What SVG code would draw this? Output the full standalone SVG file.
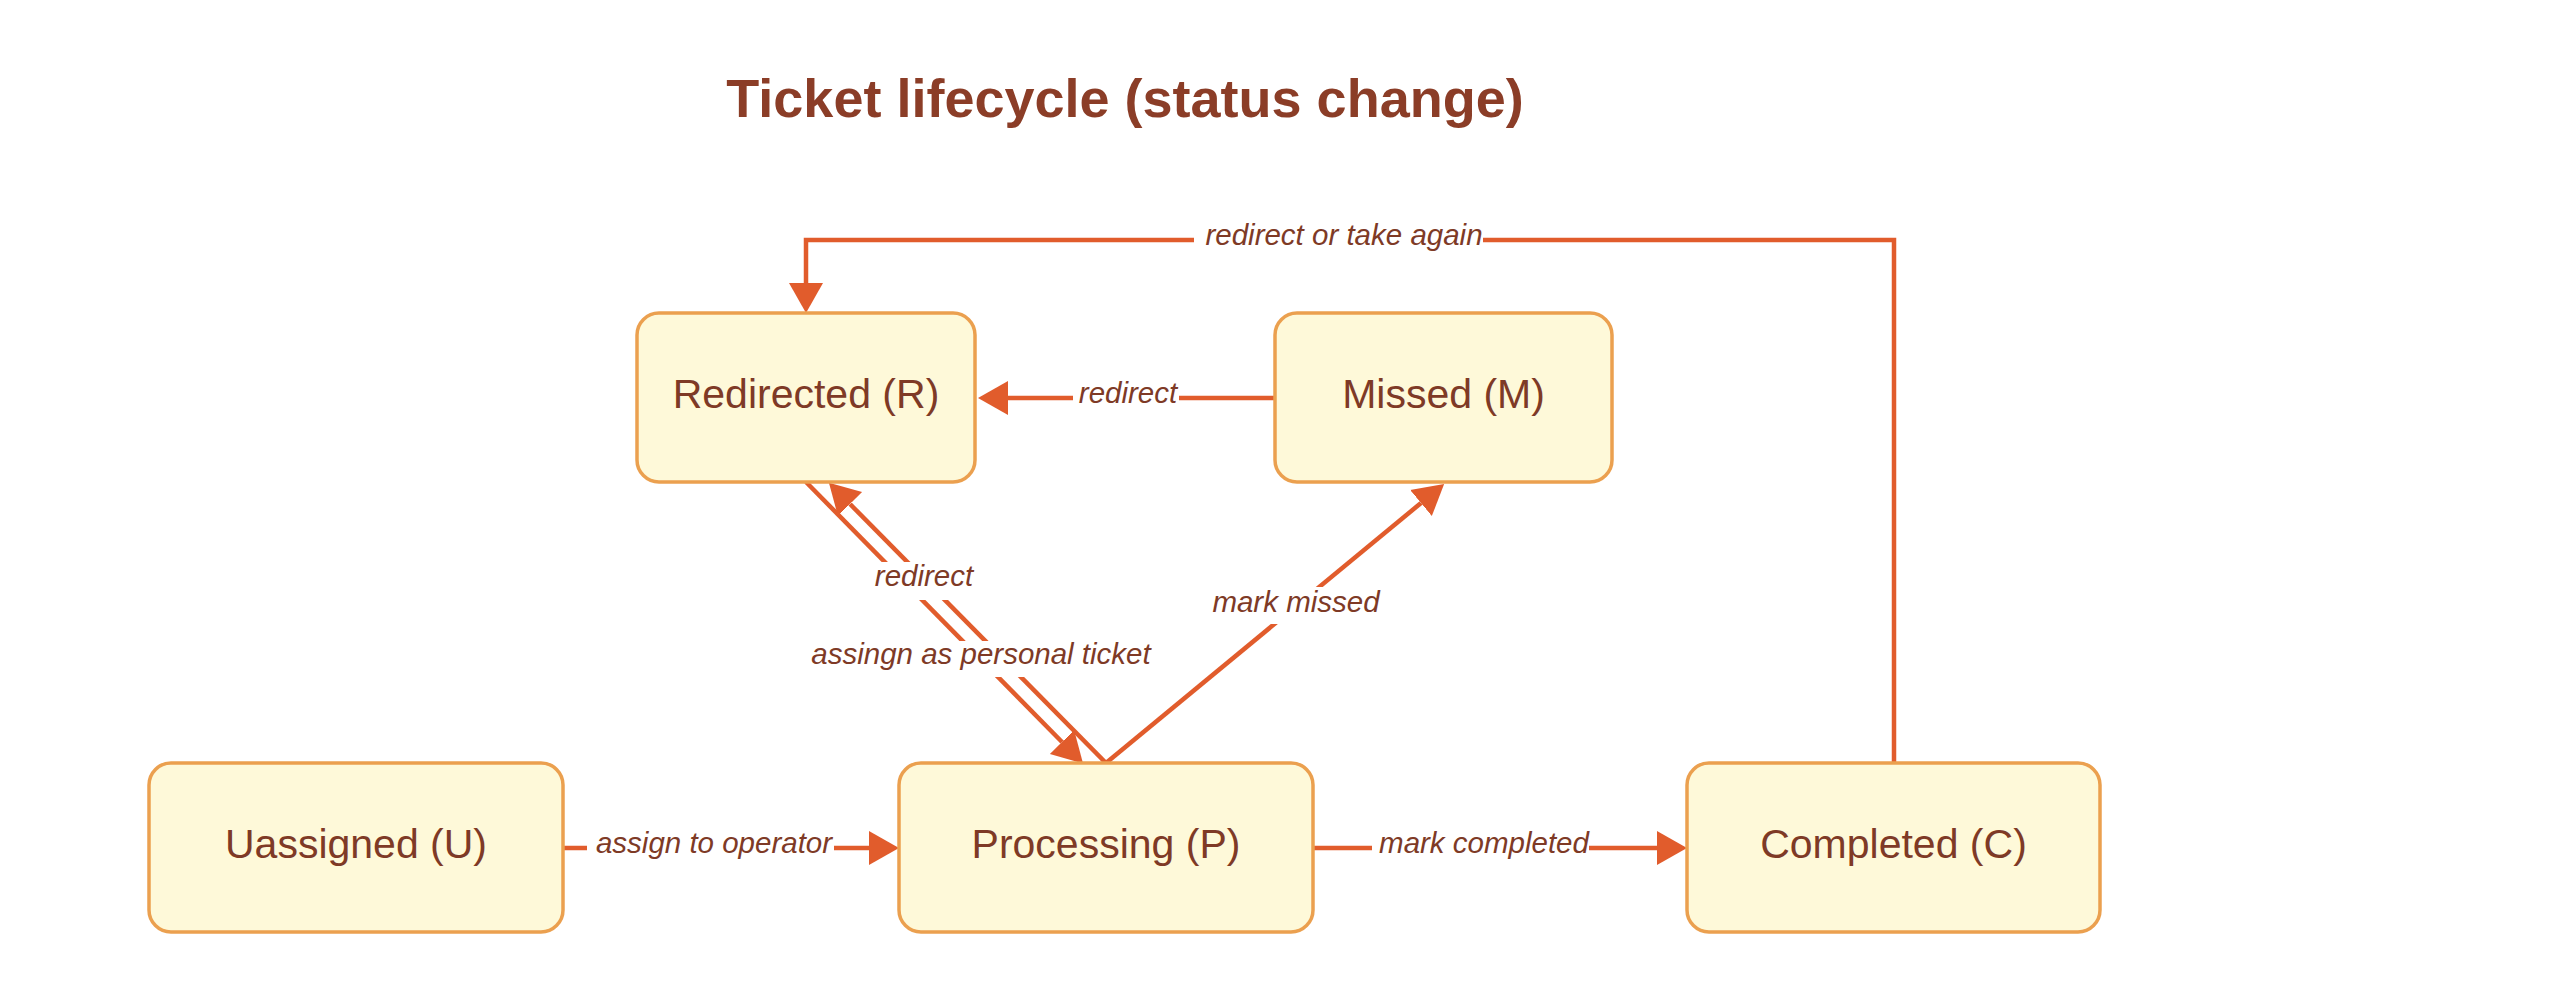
<svg xmlns="http://www.w3.org/2000/svg" width="2573" height="1003" viewBox="0 0 2573 1003">
<style>
.node rect{fill:#fef9d9;stroke:#eba04f;stroke-width:3.5}
.node text{font-family:"Liberation Sans",Arial,sans-serif;font-size:41px;fill:#7e3a26;text-anchor:middle}
.edge{fill:none;stroke:#e15c2c;stroke-width:4.5}
.lbl rect{fill:#ffffff}
.lbl text{font-family:"Liberation Sans",Arial,sans-serif;font-size:29.5px;font-style:italic;fill:#7e3a26;text-anchor:middle}
.title{font-family:"Liberation Sans",Arial,sans-serif;font-size:54px;font-weight:bold;fill:#8b3d27;text-anchor:middle}
</style>
<defs>
<marker id="arr" markerUnits="userSpaceOnUse" markerWidth="31" markerHeight="36" refX="0" refY="17" orient="auto" viewBox="0 0 31 34">
<path d="M0,0 L30,17 L0,34 Z" fill="#e15c2c"/>
</marker>
</defs>
<rect width="2573" height="1003" fill="#ffffff"/>
<text class="title" x="1125" y="117">Ticket lifecycle (status change)</text>
<g id="connectors">
<path class="edge" d="M563,848 L869,848" marker-end="url(#arr)"/>
<path class="edge" d="M1313,848 L1657,848" marker-end="url(#arr)"/>
<path class="edge" d="M1275,398 L1008,398" marker-end="url(#arr)"/>
<path class="edge" d="M1894,763 L1894,240 L806,240 L806,283" marker-end="url(#arr)"/>
<path class="edge" d="M806,482 L1062,742" marker-end="url(#arr)"/>
<path class="edge" d="M1106,763 L850,504" marker-end="url(#arr)"/>
<path class="edge" d="M1106,763 L1421,503" marker-end="url(#arr)"/>
<g class="lbl">
<rect x="587" y="830" width="247" height="36"/>
<text x="714" y="853">assign to operator</text>
<rect x="1372" y="830" width="217" height="36"/>
<text x="1484" y="853">mark completed</text>
<rect x="1073" y="380" width="106" height="36"/>
<text x="1128" y="403">redirect</text>
<rect x="1194" y="222" width="289" height="36"/>
<text x="1344" y="245">redirect or take again</text>
<rect x="872" y="562" width="104" height="38"/>
<text x="924" y="586">redirect</text>
<rect x="809" y="641" width="344" height="36"/>
<text x="981" y="664">assingn as personal ticket</text>
<rect x="1211" y="587" width="171" height="37"/>
<text x="1296" y="612">mark missed</text>
</g>
</g>
<g id="node-R" class="node"><rect x="637" y="313" width="338" height="169" rx="22"/><text x="806" y="408">Redirected (R)</text></g>
<g id="node-M" class="node"><rect x="1275" y="313" width="337" height="169" rx="22"/><text x="1443.5" y="408">Missed (M)</text></g>
<g id="node-U" class="node"><rect x="149" y="763" width="414" height="169" rx="22"/><text x="356" y="858">Uassigned (U)</text></g>
<g id="node-P" class="node"><rect x="899" y="763" width="414" height="169" rx="22"/><text x="1106" y="858">Processing (P)</text></g>
<g id="node-C" class="node"><rect x="1687" y="763" width="413" height="169" rx="22"/><text x="1893.5" y="858">Completed (C)</text></g>
</svg>
